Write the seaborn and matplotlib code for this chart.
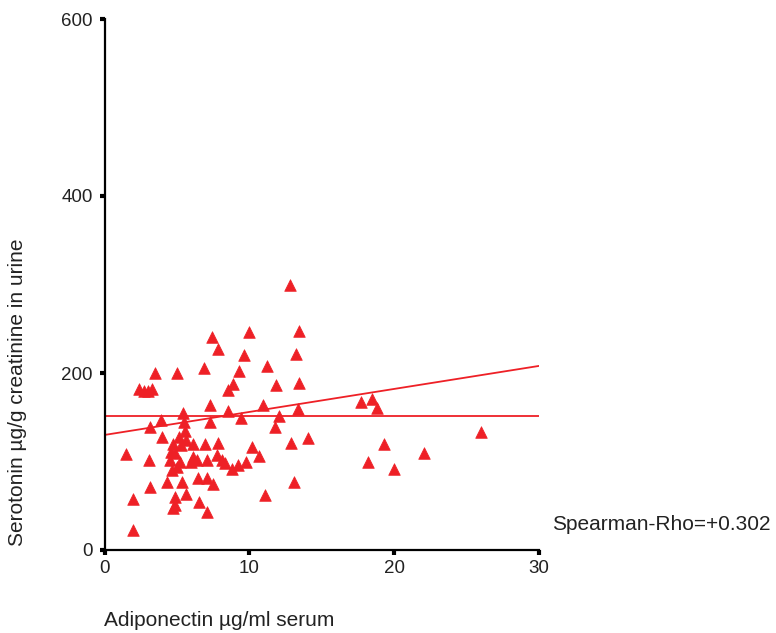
import matplotlib
matplotlib.use("Agg")
import matplotlib.pyplot as plt
import seaborn as sns
import pandas as pd

adiponectin = [12.8, 7.4, 10.0, 13.45, 7.85, 9.6, 13.2, 3.5, 5.0, 6.9, 9.3, 11.25,
               2.4, 2.7, 3.0, 3.3, 8.85, 8.5, 11.85, 13.45, 7.28, 10.97, 8.5, 13.35,
               5.45, 3.9, 5.5, 7.28, 9.42, 12.05, 3.15, 11.75, 5.55, 4.0, 5.6, 4.75,
               5.3, 6.12, 6.93, 7.85, 10.2, 12.9, 14.05, 1.45, 4.6, 3.1, 4.52, 6.1,
               6.4, 7.05, 7.8, 8.1, 10.7, 6.0, 8.3, 8.77, 9.2, 9.75, 5.0, 4.65,
               4.3, 5.35, 6.45, 7.05, 7.5, 3.15, 4.86, 5.65, 6.5, 11.1, 13.07, 2.0,
               4.9, 4.76, 7.05, 2.0, 17.7, 18.45, 18.8, 19.3, 22.05, 26.0, 18.2, 20.0,
               5.15, 4.9, 5.2]
serotonin = [299, 241, 246, 248, 227, 220, 221, 200, 200, 206, 202, 208,
             182, 180, 180, 182, 188, 181, 186, 189, 164, 164, 157, 159,
             155, 147, 145, 145, 149, 151, 139, 139, 134, 128, 124, 120,
             119, 120, 120, 121, 116, 121, 126, 109, 111, 102, 102, 105,
             102, 102, 107, 102, 106, 99, 98, 92, 96, 100, 94, 90,
             77, 77, 81, 81, 75, 71, 60, 63, 54, 62, 77, 58,
             51, 47, 43, 23, 167, 171, 161, 120, 110, 133, 99, 91,
             128, 110, 100]

fit_x = [0, 30]
fit_y = [130, 208]
ref_level = 151

x_ticks = [0, 10, 20, 30]
y_ticks = [0, 200, 400, 600]

df = pd.DataFrame({"x": adiponectin, "y": serotonin})
fit_df = pd.DataFrame({"x": fit_x, "y": fit_y})
ref_df = pd.DataFrame({"x": fit_x, "y": [ref_level, ref_level]})

sns.set_style("ticks")
plt.rcParams["font.family"] = ["Liberation Sans", "DejaVu Sans"]

red = "#ee2026"
fig = plt.figure(figsize=(7.76, 6.33), dpi=100)
ax = fig.add_axes([104.5 / 776, 1 - 550 / 633, 434.5 / 776, (550 - 19) / 633])

sns.lineplot(data=ref_df, x="x", y="y", ax=ax, color=red, lw=1.3)
sns.lineplot(data=fit_df, x="x", y="y", ax=ax, color=red, lw=1.3)
sns.scatterplot(data=df, x="x", y="y", ax=ax, marker="^", s=70, color=red,
                edgecolor=red, linewidth=0.5, zorder=3, clip_on=False)

ax.set_xlim(0, 30)
ax.set_ylim(0, 600)
ax.set_xticks(x_ticks)
ax.set_yticks(y_ticks)
ax.set_xlabel("")
ax.set_ylabel("")
for s in ["top", "right"]:
    ax.spines[s].set_visible(False)
for s in ["left", "bottom"]:
    ax.spines[s].set_linewidth(1.6)
    ax.spines[s].set_color("black")
ax.tick_params(axis="both", direction="out", length=3.6, width=3, color="black",
               labelsize=13.5, labelcolor="#222222")
ax.tick_params(axis="x", pad=3.5)
ax.tick_params(axis="y", pad=5)

fig.text(104 / 776, 1 - 620 / 633, "Adiponectin µg/ml serum", ha="left", va="center",
         fontsize=15, color="#222222")
fig.text(18 / 776, 1 - 392 / 633, "Serotonin µg/g creatinine in urine", ha="center",
         va="center", rotation=90, fontsize=15, color="#222222")
fig.text(552 / 776, 1 - 525 / 633, "Spearman-Rho=+0.302", ha="left", va="center",
         fontsize=15, color="#222222")

fig.savefig("out.png", dpi=100)
